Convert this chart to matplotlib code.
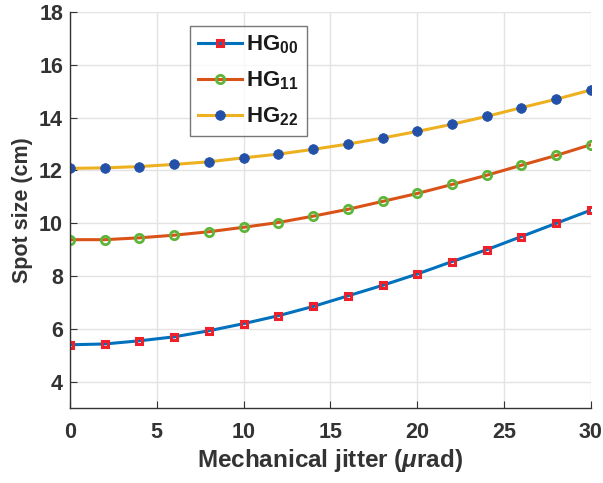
import matplotlib
matplotlib.use("Agg")
import matplotlib.pyplot as plt

# données
jitter = [0, 2, 4, 6, 8, 10, 12, 14, 16, 18, 20, 22, 24, 26, 28, 30]
hg00 = [5.40, 5.43, 5.55, 5.70, 5.93, 6.20, 6.50, 6.85, 7.25, 7.65, 8.08, 8.55, 9.00, 9.50, 10.00, 10.50]
hg11 = [9.38, 9.38, 9.45, 9.55, 9.68, 9.85, 10.03, 10.27, 10.53, 10.83, 11.13, 11.47, 11.82, 12.20, 12.57, 12.98]
hg22 = [12.08, 12.10, 12.15, 12.23, 12.33, 12.48, 12.62, 12.80, 13.00, 13.23, 13.48, 13.75, 14.05, 14.38, 14.70, 15.05]
labels = ["HG$_{00}$", "HG$_{11}$", "HG$_{22}$"]
xticks = [0, 5, 10, 15, 20, 25, 30]
yticks = [4, 6, 8, 10, 12, 14, 16, 18]

plt.rcParams["font.family"] = ["Liberation Sans", "DejaVu Sans"]
plt.rcParams["font.weight"] = "bold"
plt.rcParams["mathtext.fontset"] = "custom"
plt.rcParams["mathtext.rm"] = "Liberation Sans:bold"
plt.rcParams["mathtext.it"] = "Liberation Sans:italic:bold"
plt.rcParams["mathtext.bf"] = "Liberation Sans:bold"
plt.rcParams["mathtext.default"] = "bf"

axcol = "#333333"

fig = plt.figure(figsize=(6.03, 4.83), dpi=100)
ax = fig.add_axes([0.116, 0.155, 0.864, 0.820])

ax.plot(jitter, hg00, color="#0072BD", lw=2.2, marker="s", ms=4.8,
        mfc="none", mec="#F0202A", mew=2.2, label=labels[0])
ax.plot(jitter, hg11, color="#D95319", lw=2.2, marker="o", ms=6,
        mfc="none", mec="#5DB63A", mew=2.0, label=labels[1])
ax.plot(jitter, hg22, color="#EDB120", lw=2.2, marker="o", ms=7,
        mfc="#2350A8", mec="#2350A8", mew=0.5, label=labels[2])

ax.set_xlim(0, 30)
ax.set_ylim(3, 18)
ax.set_xticks(xticks)
ax.set_yticks(yticks)
ax.grid(True, color="#e3e3e3", lw=1)
ax.set_axisbelow(True)

for s in ["top", "right"]:
    ax.spines[s].set_visible(False)
for s in ["left", "bottom"]:
    ax.spines[s].set_color(axcol)
    ax.spines[s].set_linewidth(1)

ax.tick_params(direction="in", length=5, colors=axcol, labelsize=15.5)
ax.tick_params(axis="x", pad=10)
ax.tick_params(axis="y", pad=5)
for t in ax.get_xticklabels() + ax.get_yticklabels():
    t.set_fontweight("bold")

ax.set_xlabel("Mechanical jitter ($\\mathit{\\mu}$rad)", fontsize=17.5,
              fontweight="bold", color=axcol, labelpad=3)
ax.set_ylabel("Spot size (cm)", fontsize=15.5, fontweight="bold",
              color=axcol, labelpad=4)

leg = ax.legend(loc="upper left", bbox_to_anchor=(0.23, 0.965),
                borderaxespad=0, prop={"size": 16, "weight": "bold"},
                frameon=True, fancybox=False, edgecolor="#555555",
                handlelength=2.0, borderpad=0.35, labelspacing=0.6,
                handletextpad=0.2)
leg.get_frame().set_linewidth(1)
for t in leg.get_texts():
    t.set_color("#1a1a1a")

fig.savefig("out.png", dpi=100)
